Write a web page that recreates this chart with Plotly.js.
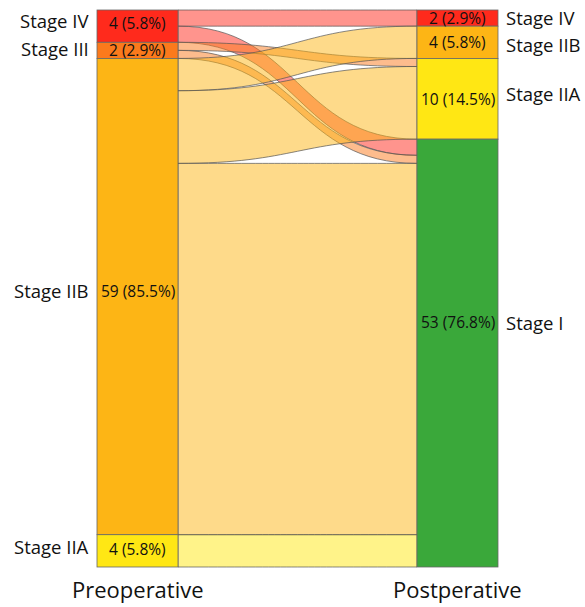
<!DOCTYPE html>
<html><head><meta charset="utf-8">
<script src="https://cdn.plot.ly/plotly-3.0.1.min.js"></script>
<style>html,body{margin:0;padding:0;background:#fff}#chart{width:585px;height:607px}</style>
</head><body><div id="chart"></div>
<script>
// Data
var preStages = ["Stage IV", "Stage III", "Stage IIB", "Stage IIA"];
var preCounts = [4, 2, 59, 4];
var postStages = ["Stage IV", "Stage IIB", "Stage IIA", "Stage I"];
var postCounts = [2, 4, 10, 53];
var flowSource = ["Stage IV", "Stage IV", "Stage III", "Stage III", "Stage IIB", "Stage IIB", "Stage IIB", "Stage IIA"];
var flowTarget = ["Stage IV", "Stage I", "Stage IIA", "Stage I", "Stage IIB", "Stage IIA", "Stage I", "Stage I"];
var flowValue  = [2, 2, 1, 1, 4, 9, 46, 4];
var groupTitles = ["Preoperative", "Postperative"];

// Styles
var stageRGB = {"Stage IV":[255,42,28],"Stage III":[251,122,28],"Stage IIB":[253,181,21],"Stage IIA":[255,231,20],"Stage I":[58,168,58]};
function rgba(c,a){ return 'rgba('+c[0]+','+c[1]+','+c[2]+','+a+')'; }
// label offsets (px, up positive) to match the reference placement
var preNameShift  = {"Stage IV":6, "Stage III":2, "Stage IIB":6, "Stage IIA":4};
var preCountShift = {"Stage IV":3, "Stage III":0, "Stage IIB":6, "Stage IIA":2};
var postNameShift = {"Stage IV":1, "Stage IIB":-2, "Stage IIA":5, "Stage I":31};
var postCountShift= {"Stage IV":0, "Stage IIB":0, "Stage IIA":0, "Stage I":31};

var W = 585, H = 607;
var M = {l: 97, r: 87, t: 10, b: 40};
var pw = W - M.l - M.r, ph = H - M.t - M.b;
var thick = 81;

var total = preCounts.reduce(function(a,b){return a+b;},0);
function centers(counts){
  var c = [], acc = 0;
  counts.forEach(function(v){ c.push((acc + v/2)/total); acc += v; });
  return c;
}
var preC = centers(preCounts), postC = centers(postCounts);
var xL = (thick/2)/pw, xR = 1 - xL;

var nodeColors = [], nodeX = [], nodeY = [], nodeLabels = [];
preStages.forEach(function(s,i){ nodeColors.push(rgba(stageRGB[s],1)); nodeX.push(xL); nodeY.push(preC[i]); nodeLabels.push(''); });
postStages.forEach(function(s,i){ nodeColors.push(rgba(stageRGB[s],1)); nodeX.push(xR); nodeY.push(postC[i]); nodeLabels.push(''); });

var src = flowSource.map(function(s){return preStages.indexOf(s);});
var tgt = flowTarget.map(function(s){return preStages.length + postStages.indexOf(s);});
var lcol = flowSource.map(function(s){return rgba(stageRGB[s],0.5);});

var trace = {
  type: 'sankey',
  arrangement: 'fixed',
  domain: {x:[0,1], y:[0,1]},
  node: {
    label: nodeLabels,
    x: nodeX, y: nodeY,
    pad: 0, thickness: thick,
    color: nodeColors,
    line: {color: '#666', width: 0.8}
  },
  link: {
    source: src, target: tgt, value: flowValue,
    color: lcol,
    line: {color: '#555', width: 0.7}
  }
};

function pct(v){ return v + ' (' + (100*v/total).toFixed(1) + '%)'; }
var font = "Open Sans, Noto Sans, sans-serif";
var nameSize = 18.5;
var ann = [];
preStages.forEach(function(s,i){
  var y = 1 - preC[i];
  ann.push({xref:'paper', yref:'paper', x:0, y:y, xanchor:'right', yanchor:'middle', xshift:-7, yshift:preNameShift[s], text:s, showarrow:false, borderpad:0, font:{family:font, size:nameSize, color:'#111'}});
  ann.push({xref:'paper', yref:'paper', x:xL, y:y, xanchor:'center', yanchor:'middle', yshift:preCountShift[s], text:pct(preCounts[i]), showarrow:false, borderpad:0, font:{family:font, size:15.5, color:'#111'}});
});
postStages.forEach(function(s,i){
  var y = 1 - postC[i];
  ann.push({xref:'paper', yref:'paper', x:1, y:y, xanchor:'left', yanchor:'middle', xshift:7, yshift:postNameShift[s], text:s, showarrow:false, borderpad:0, font:{family:font, size:nameSize, color:'#111'}});
  ann.push({xref:'paper', yref:'paper', x:xR, y:y, xanchor:'center', yanchor:'middle', yshift:postCountShift[s], text:pct(postCounts[i]), showarrow:false, borderpad:0, font:{family:font, size:15.5, color:'#111'}});
});
ann.push({xref:'paper', yref:'paper', x:xL, y:0, xanchor:'center', yanchor:'top', yshift:-6, text:groupTitles[0], showarrow:false, borderpad:0, font:{family:font, size:22, color:'#111'}});
ann.push({xref:'paper', yref:'paper', x:xR, y:0, xanchor:'center', yanchor:'top', yshift:-6, text:groupTitles[1], showarrow:false, borderpad:0, font:{family:font, size:22, color:'#111'}});

var layout = {
  width: W, height: H,
  margin: M,
  paper_bgcolor: '#fff',
  showlegend: false,
  annotations: ann,
  font: {family: font}
};
Plotly.newPlot('chart', [trace], layout, {displayModeBar:false, staticPlot:true});
</script>
</body></html>
